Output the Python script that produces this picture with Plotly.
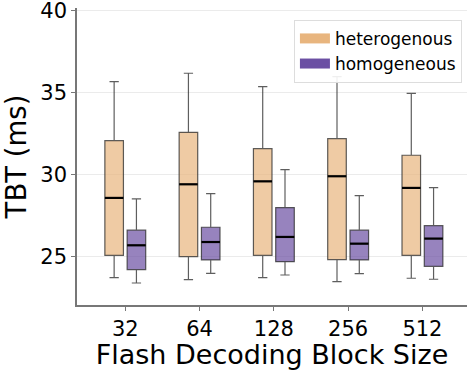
import plotly.graph_objects as go

# Flash-decoding block sizes and per-configuration TBT box statistics (ms)
block_sizes = ["32", "64", "128", "256", "512"]

het_low = [23.74, 23.62, 23.74, 23.50, 23.70]
het_q1 = [25.10, 25.02, 25.10, 24.84, 25.10]
het_med = [28.60, 29.43, 29.61, 29.92, 29.21]
het_q3 = [32.09, 32.60, 31.60, 32.21, 31.20]
het_high = [35.69, 36.20, 35.38, 36.00, 34.98]

hom_low = [23.41, 24.00, 23.90, 23.98, 23.64]
hom_q1 = [24.23, 24.82, 24.71, 24.82, 24.43]
hom_med = [25.71, 25.91, 26.22, 25.81, 26.12]
hom_q3 = [26.63, 26.81, 28.01, 26.63, 26.91]
hom_high = [28.54, 28.86, 30.32, 28.74, 29.23]

HET_COLOR = "#E8B57E"
HOM_COLOR = "#6B4FA3"
HET_FILL = "rgba(232,181,126,0.7)"
HOM_FILL = "rgba(107,79,163,0.7)"
EDGE = "rgba(40,40,40,0.75)"
BOX_W = 0.25
OFFSET = 0.15

fig = go.Figure()

groups = [
    ("heterogenous", -OFFSET, HET_COLOR, HET_FILL, het_low, het_q1, het_med, het_q3, het_high),
    ("homogeneous", OFFSET, HOM_COLOR, HOM_FILL, hom_low, hom_q1, hom_med, hom_q3, hom_high),
]

for name, off, color, fill, lo, q1, med, q3, hi in groups:
    xs = [i + off for i in range(len(block_sizes))]
    fig.add_trace(go.Box(
        x=xs, lowerfence=lo, q1=q1, median=med, q3=q3, upperfence=hi,
        width=BOX_W, whiskerwidth=0.5,
        fillcolor=fill, line=dict(color=EDGE, width=1.2),
        showlegend=False, hoverinfo="skip",
    ))
    # thick black median bars drawn over each box
    mx, my = [], []
    for x, m in zip(xs, med):
        mx += [x - BOX_W / 2, x + BOX_W / 2, None]
        my += [m, m, None]
    fig.add_trace(go.Scatter(x=mx, y=my, mode="lines",
                             line=dict(color="black", width=2.2),
                             showlegend=False, hoverinfo="skip"))
    # legend entry as a wide solid swatch
    fig.add_trace(go.Scatter(x=[None], y=[None], name=name, mode="lines",
                             line=dict(color=color, width=12)))

fig.update_layout(
    width=467, height=370,
    margin=dict(l=77, r=0, t=8, b=65),
    plot_bgcolor="white", paper_bgcolor="white",
    font=dict(family="DejaVu Sans", color="black"),
    legend=dict(
        x=0.987, y=0.96, xanchor="right", yanchor="top",
        bgcolor="rgba(255,255,255,0.9)", bordercolor="#dddddd", borderwidth=1,
        font=dict(size=17), tracegroupgap=0,
    ),
)

fig.update_xaxes(
    range=[-0.65, 4.6],
    tickmode="array", tickvals=list(range(len(block_sizes))), ticktext=block_sizes,
    tickfont=dict(size=21),
    ticks="outside", ticklen=4, tickcolor="#777777",
    showline=True, linecolor="#777777", linewidth=1.5,
    showgrid=False, zeroline=False,
    title=dict(text="Flash Decoding Block Size", font=dict(size=27), standoff=0),
)
fig.update_yaxes(
    range=[22.07, 40.18],
    tickvals=[25, 30, 35, 40],
    tickfont=dict(size=21),
    ticks="outside", ticklen=4, tickcolor="#777777",
    ticklabeloverflow="allow",
    showline=True, linecolor="#777777", linewidth=1.5,
    showgrid=True, gridcolor="#ebebeb", gridwidth=1,
    zeroline=False,
    title=dict(text="TBT (ms)", font=dict(size=27.5), standoff=6),
)

fig.write_html("out.html")
